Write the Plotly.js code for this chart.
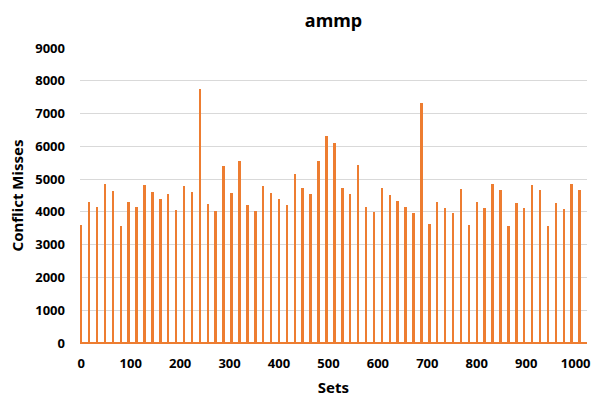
<!DOCTYPE html>
<html>
<head>
<meta charset="utf-8">
<script src="https://cdn.plot.ly/plotly-3.0.1.min.js"></script>
<style>html,body{margin:0;padding:0;background:#fff;}#chart{width:599px;height:397px;}</style>
</head>
<body>
<div id="chart"></div>
<script>
const title = "ammp";
const xTitle = "Sets";
const yTitle = "Conflict Misses";
const sets = [0,16,32,48,64,80,96,112,128,144,160,176,192,208,224,240,256,272,288,304,320,336,352,368,384,400,416,432,448,464,480,496,512,528,544,560,576,592,608,624,640,656,672,688,704,720,736,752,768,784,800,816,832,848,864,880,896,912,928,944,960,976,992,1008];
const misses = [3600,4290,4150,4840,4640,3560,4310,4150,4810,4620,4400,4550,4060,4790,4600,7740,4230,4040,5410,4580,5560,4210,4040,4790,4580,4380,4210,5160,4740,4560,5540,6320,6100,4740,4540,5420,4160,3990,4720,4520,4320,4160,3980,7320,3620,4310,4130,3970,4700,3600,4300,4130,4860,4680,3570,4280,4110,4830,4660,3560,4280,4090,4840,4660];
const xTicks = [0,100,200,300,400,500,600,700,800,900,1000];

const font = "'Noto Sans', 'Open Sans', sans-serif";
Plotly.newPlot('chart', [{
  type: 'bar',
  x: sets,
  y: misses,
  width: 5,
  marker: {color: '#ED7D31', line: {width: 0}},
  hoverinfo: 'x+y'
}], {
  width: 599, height: 397,
  margin: {l: 80, r: 12, t: 48, b: 54},
  paper_bgcolor: '#fff', plot_bgcolor: '#fff',
  font: {family: font, color: '#000', size: 13, weight: 700},
  title: {text: '<b>' + title + '</b>', x: 0.5, xref: 'paper', y: 0.947, yanchor: 'middle', font: {size: 18, family: font}},
  showlegend: false,
  bargap: 0,
  xaxis: {
    range: [-2.5, 1023],
    tickmode: 'array', tickvals: xTicks, ticktext: xTicks.map(String),
    showgrid: false, zeroline: false, showline: false, ticks: '',
    ticklabelstandoff: 11,
    tickfont: {size: 13, family: font, weight: 700},
    title: {text: '<b>' + xTitle + '</b>', font: {size: 15, family: font}, standoff: 12}
  },
  yaxis: {
    range: [0, 9000], dtick: 1000,
    showgrid: true, gridcolor: '#d9d9d9', gridwidth: 1,
    zeroline: true, zerolinecolor: '#ED7D31', zerolinewidth: 2,
    showline: false, ticks: '',
    tickfont: {size: 13, family: font, weight: 700},
    ticklabelstandoff: 14,
    title: {text: '<b>' + yTitle + '</b>', font: {size: 15, family: font}, standoff: 8}
  }
}, {displayModeBar: false, staticPlot: true});
</script>
</body>
</html>
